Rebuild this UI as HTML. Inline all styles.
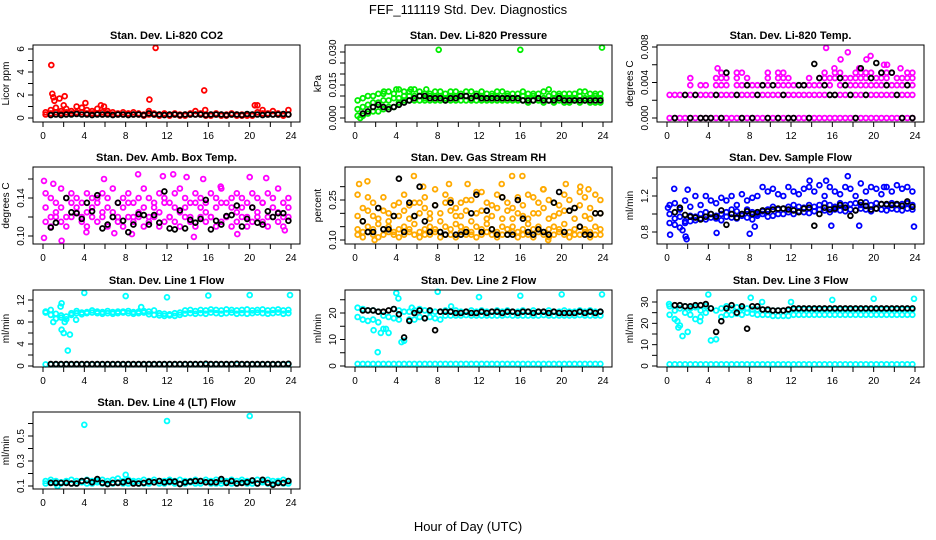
<!DOCTYPE html>
<html><head><meta charset="utf-8"><style>
html,body{margin:0;padding:0;background:#fff;}
svg{display:block;font-family:"Liberation Sans",Arial,sans-serif;}
</style></head><body>
<svg id="chart" width="936" height="540" viewBox="0 0 936 540">
<text x="468" y="14" text-anchor="middle" font-size="13">FEF_111119  Std. Dev. Diagnostics</text>
<text x="468" y="531" text-anchor="middle" font-size="13">Hour of Day (UTC)</text>
</svg>
<script>
const H=[0.25,0.75,1.25,1.75,2.25,2.75,3.25,3.75,4.25,4.75,5.25,5.75,6.25,6.75,7.25,7.75,8.25,8.75,9.25,9.75,10.25,10.75,11.25,11.75,12.25,12.75,13.25,13.75,14.25,14.75,15.25,15.75,16.25,16.75,17.25,17.75,18.25,18.75,19.25,19.75,20.25,20.75,21.25,21.75,22.25,22.75,23.25,23.75];
const xTicks=[0,2,4,6,8,10,12,14,16,18,20,22,24];
const xTickLabels=[0,4,8,12,16,20,24];

const co2R1=[0.5,0.7,0.9,0.6,0.8,0.6,1.0,0.9,0.7,0.6,0.8,0.5,0.6,0.5,0.4,0.5,0.4,0.5,0.4,0.3,0.6,0.4,0.3,0.4,0.3,0.4,0.3,0.3,0.4,0.6,0.4,0.3,0.3,0.4,0.3,0.3,0.4,0.3,0.3,0.3,0.3,1.1,0.7,0.4,0.6,0.4,0.3,0.7];
const co2R2=[0.3,0.4,0.5,0.4,0.5,0.4,0.5,0.5,0.4,0.4,0.4,0.3,0.4,0.3,0.3,0.3,0.3,0.3,0.3,0.2,0.3,0.3,0.2,0.3,0.2,0.3,0.2,0.2,0.3,0.3,0.3,0.2,0.2,0.3,0.2,0.2,0.3,0.2,0.2,0.2,0.2,0.5,0.4,0.3,0.3,0.3,0.2,0.3];
const co2K=[null,0.25,0.3,0.25,0.3,0.3,0.35,0.3,0.3,0.25,0.3,0.3,0.3,0.25,0.3,0.3,0.25,0.3,0.3,0.25,0.4,0.3,0.3,0.25,0.3,0.3,0.25,0.3,0.3,0.3,0.3,0.25,0.3,0.3,0.3,0.25,0.3,0.3,0.25,0.35,0.3,0.3,0.25,0.3,0.3,0.3,0.35,0.3];
const co2OutX=[0.8,0.9,1.0,1.1,1.6,2.1,4.1,5.6,10.3,10.9,15.6,2.0,20.5,15.7,5.9];
const co2OutY=[4.6,2.1,1.8,1.5,1.7,1.9,1.3,1.1,1.6,6.1,2.4,1.1,1.1,0.7,1.0];

const prG1=[0.008,0.009,0.010,0.010,0.011,0.011,0.012,0.011,0.013,0.012,0.012,0.013,0.012,0.011,0.011,0.012,0.012,0.011,0.012,0.012,0.011,0.012,0.012,0.011,0.012,0.011,0.011,0.012,0.012,0.011,0.011,0.011,0.012,0.011,0.011,0.011,0.012,0.013,0.011,0.011,0.011,0.011,0.011,0.012,0.012,0.011,0.011,0.011];
const prG2=[0.004,0.005,0.006,0.007,0.007,0.008,0.008,0.009,0.009,0.010,0.010,0.010,0.010,0.009,0.010,0.010,0.010,0.009,0.010,0.010,0.010,0.010,0.009,0.010,0.010,0.009,0.010,0.010,0.009,0.010,0.009,0.009,0.010,0.009,0.010,0.009,0.009,0.010,0.009,0.010,0.009,0.009,0.009,0.010,0.009,0.009,0.010,0.009];
const prG3=[0.001,0.001,0.002,0.003,0.003,0.004,0.005,0.005,0.007,0.008,0.008,0.008,0.008,0.008,0.008,0.008,0.008,0.008,0.008,0.008,0.008,0.008,0.008,0.008,0.008,0.008,0.008,0.008,0.008,0.008,0.008,0.008,0.008,0.007,0.008,0.008,0.007,0.008,0.007,0.008,0.007,0.007,0.008,0.007,0.008,0.007,0.007,0.007];
const prK=[null,0.002,0.003,0.005,0.006,0.005,0.004,0.005,0.006,0.007,0.008,0.009,0.010,0.010,0.009,0.009,0.009,0.008,0.009,0.009,0.010,0.010,0.009,0.010,0.009,0.009,0.009,0.009,0.009,0.009,0.009,0.009,0.008,0.008,0.008,0.009,0.008,0.008,0.008,0.009,0.008,0.008,0.008,0.008,0.008,0.008,0.008,0.008];
const prOutX=[8.1,16.0,23.9,2.8,4.0,5.4,6.9,0.5];
const prOutY=[0.031,0.031,0.032,0.012,0.013,0.013,0.013,0.000];

const tA=[0,0,0,0,0,0,0,0,0,0,0,0,0,0,0,0,0,0,0,0,0,0,0,0,0,0,0,0,0,0,0,0,0,0,0,0,0,0,0,0,0,0,0,0,0,0,0,0];
const tB=[0.0026,0.0026,0.0026,0.0026,0.0026,0.0026,0.0026,0.0026,0.0026,0.0026,0.0026,0.0026,0.0026,0.0026,0.0026,0.0026,0.0026,0.0026,0.0026,0.0026,0.0026,0.0026,0.0026,0.0026,0.0026,0.0026,0.0026,0.0026,0.0026,0.0026,0.0026,0.0026,0.0026,0.0026,0.0026,0.0026,0.0026,0.0026,0.0026,0.0026,0.0026,0.0026,0.0026,0.0026,0.0026,0.0026,0.0026,0.0026];
const tC=[null,null,null,null,0.0037,null,0.0037,0.0037,null,0.0037,0.0037,0.0037,null,0.0037,0.0037,0.0037,0.0037,0.0037,0.0037,0.0037,null,0.0037,0.0037,0.0037,0.0037,0.0037,0.0037,0.0037,0.0037,0.0037,0.0037,0.0037,null,0.0037,0.0037,0.0037,0.0037,0.0037,0.0037,0.0037,0.0037,0.0037,0.0037,0.0037,0.0037,0.0037,0.0037,0.0037];
const tD=[null,null,null,null,0.0045,null,null,null,null,0.0045,0.0045,0.0045,null,0.0045,null,0.0045,null,null,null,0.0045,null,0.0045,0.0045,0.0045,null,null,null,0.0045,null,0.0045,0.0045,0.0045,0.0045,0.0045,0.0045,0.0045,0.0045,0.0045,0.0045,null,0.0045,0.0045,0.0045,null,0.0045,0.0045,0.0045,0.0045];
const tE=[null,null,null,null,null,null,null,null,null,null,0.0051,null,null,0.0051,0.0051,null,null,null,null,0.0051,null,0.0051,0.0051,null,null,null,null,null,null,null,0.0051,null,0.0051,0.0051,null,null,0.0051,0.0051,0.0051,0.0051,null,0.0051,0.0051,0.0051,null,null,0.0051,0.0051];
const tOutX=[4.9,15.4,16.8,17.5,19.3,19.7,21.0,21.3,22.6,16.2,18.6];
const tOutY=[0.0056,0.0079,0.0066,0.0074,0.0066,0.0070,0.0060,0.0060,0.0056,0.0056,0.0056];
const tK=[null,0,null,0.0026,0,0.0026,0,0,0,0.0026,0,0.0051,null,0.0026,0,0.0037,0,0.0026,0.0037,0,0.0037,0,0.0026,0,0,0.0037,0.0037,0,0.0061,0.0045,0.0037,0.0026,0.0026,0.0045,0.0037,0.0026,0,0.0056,0.0026,0.0045,0.0062,0.0051,0.0037,0.0051,0.0026,0,0.0037,0];

const bM1=[0.13,0.12,0.125,0.13,0.12,0.135,0.13,0.12,0.125,0.13,0.14,0.12,0.13,0.125,0.12,0.13,0.135,0.12,0.125,0.13,0.12,0.13,0.125,0.135,0.12,0.13,0.125,0.13,0.12,0.135,0.13,0.125,0.12,0.13,0.135,0.12,0.13,0.125,0.13,0.12,0.13,0.125,0.135,0.12,0.13,0.125,0.12,0.13];
const bM2=[0.115,0.11,0.12,0.115,0.11,0.12,0.125,0.115,0.11,0.12,0.115,0.125,0.11,0.12,0.115,0.11,0.12,0.115,0.12,0.11,0.115,0.12,0.11,0.115,0.12,0.115,0.11,0.12,0.115,0.11,0.12,0.115,0.12,0.11,0.115,0.12,0.11,0.115,0.12,0.11,0.115,0.12,0.115,0.11,0.12,0.115,0.11,0.12];
const bM3=[0.145,0.14,0.135,0.15,0.14,0.145,0.14,0.135,0.145,0.14,0.135,0.145,0.14,0.15,0.135,0.14,0.145,0.135,0.14,0.15,0.14,0.135,0.145,0.14,0.135,0.145,0.15,0.14,0.135,0.145,0.14,0.135,0.145,0.14,0.15,0.135,0.14,0.145,0.14,0.135,0.145,0.14,0.135,0.145,0.14,0.15,0.135,0.14];
const bOutX=[0.1,0.1,1.8,1.0,5.9,9.2,11.6,12.6,13.9,15.5,17.2,20.0,21.6,4.2,8.6,14.6,18.8,23.4,6.9];
const bOutY=[0.098,0.158,0.095,0.155,0.16,0.165,0.163,0.165,0.162,0.16,0.152,0.162,0.161,0.104,0.102,0.099,0.102,0.106,0.103];
const bK=[null,0.109,0.114,null,0.14,0.125,0.124,0.118,0.135,0.126,0.143,0.108,0.112,0.12,0.135,0.116,0.104,0.112,0.123,0.122,0.112,0.122,0.114,0.147,0.108,0.107,0.127,0.108,0.117,0.114,0.118,0.138,0.107,0.116,0.112,0.121,0.122,0.132,0.11,0.118,0.13,0.114,0.112,0.126,0.12,0.124,0.124,0.116];

const rL1=[0.12,0.11,0.13,0.12,0.11,0.12,0.13,0.12,0.11,0.12,0.13,0.12,0.11,0.12,0.12,0.13,0.11,0.12,0.12,0.11,0.13,0.12,0.12,0.11,0.12,0.13,0.12,0.11,0.12,0.12,0.13,0.11,0.12,0.12,0.11,0.13,0.12,0.11,0.12,0.13,0.12,0.11,0.12,0.12,0.13,0.11,0.12,0.12];
const rL2=[0.14,0.13,0.15,0.14,0.16,0.14,0.15,0.13,0.14,0.15,0.14,0.16,0.13,0.14,0.15,0.14,0.13,0.15,0.14,0.16,0.15,0.14,0.13,0.15,0.14,0.16,0.14,0.13,0.15,0.14,0.15,0.13,0.14,0.16,0.14,0.15,0.13,0.14,0.15,0.14,0.16,0.13,0.14,0.15,0.14,0.13,0.15,0.14];
const rH1=[0.19,0.22,0.26,0.24,0.18,0.21,0.2,0.23,0.19,0.27,0.18,0.24,0.2,0.22,0.18,0.29,0.2,0.24,0.25,0.22,0.19,0.21,0.25,0.2,0.28,0.24,0.19,0.22,0.26,0.21,0.18,0.2,0.23,0.27,0.2,0.24,0.22,0.25,0.19,0.23,0.27,0.21,0.18,0.23,0.26,0.22,0.2,0.25];
const rH2=[0.27,0.17,0.21,0.19,0.22,0.26,0.17,0.19,0.24,0.21,0.23,0.19,0.24,0.26,0.2,0.23,0.17,0.27,0.21,0.19,0.24,0.25,0.17,0.28,0.21,0.18,0.23,0.27,0.18,0.24,0.22,0.26,0.19,0.18,0.26,0.2,0.29,0.18,0.24,0.2,0.21,0.25,0.22,0.28,0.19,0.18,0.27,0.2];
const rOutX=[0.4,1.2,5.7,6.6,9.1,10.9,14.2,15.2,16.2,18.2,20.4,21.8,22.6,1.9,18.7];
const rOutY=[0.31,0.32,0.34,0.3,0.31,0.31,0.31,0.34,0.34,0.29,0.31,0.3,0.29,0.1,0.1];
const rK=[null,0.17,0.13,0.13,0.22,0.14,0.14,0.19,0.33,0.13,0.24,0.19,0.3,0.17,0.13,0.23,0.13,0.12,0.24,0.12,0.12,0.13,0.2,0.27,0.13,0.21,0.14,0.12,0.26,0.12,0.12,0.25,0.18,0.13,0.12,0.14,0.13,0.12,0.24,0.28,0.13,0.21,0.22,0.15,0.12,0.12,0.2,0.2];

const sB1=[1.0,0.95,0.97,0.92,0.98,0.97,1.0,1.02,1.0,0.98,1.0,1.02,1.05,1.03,1.0,1.05,1.02,1.0,1.03,1.05,1.08,1.05,1.06,1.08,1.1,1.08,1.07,1.1,1.08,1.1,1.12,1.1,1.08,1.12,1.1,1.11,1.12,1.1,1.13,1.1,1.12,1.11,1.1,1.12,1.1,1.11,1.12,1.1];
const sB2=[0.9,0.88,0.85,0.9,0.92,0.93,0.95,0.94,0.96,0.95,0.93,0.97,0.96,0.95,0.98,0.96,0.94,0.98,1.0,0.97,0.98,1.0,1.0,1.02,1.0,1.03,1.02,1.01,1.03,1.05,1.04,1.02,1.05,1.04,1.03,1.05,1.04,1.06,1.05,1.03,1.06,1.05,1.04,1.06,1.05,1.04,1.06,1.05];
const sB3=[1.1,1.12,1.05,1.15,1.08,1.2,1.1,1.2,1.15,1.12,1.18,1.15,1.2,1.1,1.22,1.15,1.18,1.2,1.3,1.25,1.28,1.22,1.2,1.3,1.25,1.22,1.28,1.3,1.25,1.32,1.2,1.3,1.25,1.22,1.3,1.28,1.2,1.34,1.25,1.3,1.28,1.22,1.3,1.25,1.32,1.28,1.3,1.25];
const sOutX=[0.1,0.3,0.7,1.5,1.8,1.9,2.0,4.8,8.0,8.5,15.9,17.5,18.6,21.0,23.9,13.8,15.4];
const sOutY=[1.07,0.77,1.28,0.82,0.75,0.72,1.27,0.79,0.78,0.86,0.87,1.42,0.87,1.3,0.86,1.37,1.37];
const sK=[null,1.02,1.07,0.99,0.97,0.96,0.94,0.97,1.0,0.97,1.04,0.88,1.0,0.96,1.0,1.03,1.0,1.02,1.04,1.03,1.05,1.06,1.06,1.05,1.04,1.02,1.06,1.07,0.87,1.0,1.07,1.05,1.06,1.1,1.07,0.98,1.04,1.13,1.09,1.05,1.06,1.11,1.11,1.1,1.11,1.09,1.14,1.08];

const l1C1=[9.9,10.2,9.5,8.8,9.0,9.6,10.0,9.4,9.8,10.1,9.9,9.8,10.0,9.8,9.9,9.9,10.0,9.8,9.9,10.0,9.9,10.1,9.6,9.5,9.4,9.6,9.7,10.1,10.2,10.0,10.2,10.1,10.3,10.2,10.1,10.3,10.2,10.1,10.2,10.3,10.1,10.2,10.3,10.1,10.2,10.3,10.1,10.2];
const l1C2=[9.7,9.3,8.6,9.2,8.5,9.3,9.6,9.7,9.6,9.7,9.6,9.5,9.6,9.5,9.6,9.7,9.6,9.5,9.6,9.7,9.4,9.3,9.2,9.1,9.2,9.1,9.3,9.5,9.6,9.5,9.6,9.5,9.7,9.6,9.5,9.6,9.7,9.5,9.6,9.5,9.6,9.7,9.6,9.5,9.6,9.7,9.5,9.6];
const l1Z=[0.3,0.3,0.3,0.3,0.3,0.3,0.3,0.3,0.3,0.3,0.3,0.3,0.3,0.3,0.3,0.3,0.3,0.3,0.3,0.3,0.3,0.3,0.3,0.3,0.3,0.3,0.3,0.3,0.3,0.3,0.3,0.3,0.3,0.3,0.3,0.3,0.3,0.3,0.3,0.3,0.3,0.3,0.3,0.3,0.3,0.3,0.3,0.3];
const l1K=[null,0.35,0.35,0.35,0.35,0.35,0.35,0.35,0.35,0.35,0.35,0.35,0.35,0.35,0.35,0.35,0.35,0.35,0.35,0.35,0.35,0.35,0.35,0.35,0.35,0.35,0.35,0.35,0.35,0.35,0.35,0.4,0.35,0.35,0.35,0.35,0.35,0.4,0.35,0.35,0.35,0.35,0.35,0.35,0.35,0.35,0.35,0.4];
const l1OutX=[1.8,1.7,1.8,2.0,2.1,2.4,2.6,3.2,4.0,8.0,12.0,16.0,20.0,23.9,1.0,9.5];
const l1OutY=[11.4,10.8,6.6,6.0,8.0,2.8,5.7,8.4,13.3,12.7,12.5,12.8,12.9,12.9,8.0,10.7];

const l2C1=[22,21.5,21,21,20.5,19,18.5,21.5,21,20.5,20.5,21,21.5,21,20.5,20.5,20.5,21,20.5,21,20.5,20.5,21,20.5,21,20.5,20.5,21,20.5,21,20.5,20.5,21,20.5,21,20.5,20.5,21,20.5,20.5,21,20.5,20.5,21,20.5,21,20.5,20.5];
const l2C2=[18.5,17.5,17,17.5,16.5,14,12.5,18,17.5,9.5,17.5,17.5,18.5,18,18.5,18,17.5,19,19,19,19,19.2,19,19,19,19,19,19,19,19.2,19,19,19,19,19,19,19.2,19,19,19,19,19,19,19.2,19,19,19,19];
const l2Z=[0.8,0.8,0.8,0.8,0.8,0.8,0.8,0.8,0.8,0.8,0.8,0.8,0.8,0.8,0.8,0.8,0.8,0.8,0.8,0.8,0.8,0.8,0.8,0.8,0.8,0.8,0.8,0.8,0.8,0.8,0.8,0.8,0.8,0.8,0.8,0.8,0.8,0.8,0.8,0.8,0.8,0.8,0.8,0.8,0.8,0.8,0.8,0.8];
const l2K=[null,21,21,21,20.5,20.5,21,21.5,19.5,10.8,17,20,21,18,21,13.5,20.5,20.5,20.5,20,20,20.5,20,20,20.5,20,20.5,20.5,20,20.5,20.5,20,20.5,20.5,20,20.5,20.5,20,20.5,20,20,20,20,20.5,20,20.5,20,20.5];
const l2OutX=[2.2,1.8,2.5,3.0,4.0,4.2,8.0,9.3,12.0,16.0,20.0,23.9,5.5,4.5];
const l2OutY=[5.2,13.5,12.5,14,27.5,25.5,28,22.5,26,26.5,27,27,22,9];

const l3C1=[28,26,27,28,27,27.5,26,28,27,26,27,28,27,27.5,27,27,26.5,26.5,26.5,26,26,26,26,26,26.5,26.5,26.5,26.5,26.5,26.5,26.5,26.5,26.5,26.5,26.5,26.5,26.5,26.5,26.5,26.5,26.5,26.5,26.5,26.5,26.5,26.5,26.5,26.5];
const l3C2=[24,22,19,25,24,22,23,25,12,12.5,23,24,24,24.5,24,25,24.5,24,24,24,23.5,23.5,23.5,23.5,24,24,24,24,24,24,24,24,24,24,24,24,24,24,24,24,24,24,24,24,24,24,24,24];
const l3Z=[0.8,0.8,0.8,0.8,0.8,0.8,0.8,0.8,0.8,0.8,0.8,0.8,0.8,0.8,0.8,0.8,0.8,0.8,0.8,0.8,0.8,0.8,0.8,0.8,0.8,0.8,0.8,0.8,0.8,0.8,0.8,0.8,0.8,0.8,0.8,0.8,0.8,0.8,0.8,0.8,0.8,0.8,0.8,0.8,0.8,0.8,0.8,0.8];
const l3K=[null,28.5,28.5,28,28,28.5,28.5,29,27,16,21,27,28.5,25,28,17.5,28,28,26.5,26.5,26,26,26,26.5,27,27,27,27,27,27,27,27,27,27,27,27,27,27,27,27,27,27,27,27,27,27,27,27];
const l3OutX=[1.0,1.1,1.5,2.0,3.2,4.0,8.1,9.2,12.0,16.0,20.0,23.9,0.2];
const l3OutY=[21,18,14,16,21,33.5,32,30,30,31,31.5,31.5,29];

const l4C1=[0.14,0.15,0.14,0.13,0.14,0.15,0.14,0.14,0.15,0.14,0.14,0.15,0.14,0.15,0.16,0.14,0.15,0.14,0.14,0.15,0.14,0.15,0.14,0.14,0.15,0.14,0.15,0.14,0.14,0.15,0.14,0.15,0.14,0.15,0.14,0.14,0.15,0.14,0.15,0.14,0.14,0.15,0.14,0.15,0.14,0.14,0.15,0.14];
const l4C2=[0.12,0.13,0.12,0.12,0.13,0.12,0.12,0.13,0.12,0.12,0.13,0.12,0.12,0.12,0.13,0.12,0.12,0.13,0.12,0.12,0.12,0.13,0.12,0.12,0.13,0.12,0.12,0.12,0.13,0.12,0.12,0.13,0.12,0.12,0.12,0.13,0.12,0.12,0.13,0.12,0.12,0.12,0.13,0.12,0.12,0.13,0.12,0.12];
const l4K=[null,0.125,0.125,0.125,0.125,0.12,0.12,0.14,0.145,0.13,0.155,0.125,0.115,0.125,0.125,0.13,0.14,0.12,0.12,0.125,0.135,0.13,0.14,0.13,0.135,0.135,0.115,0.13,0.135,0.14,0.14,0.13,0.13,0.13,0.155,0.125,0.14,0.12,0.125,0.13,0.145,0.12,0.15,0.125,0.11,0.125,0.125,0.14];
const l4OutX=[4.0,12.0,20.0,8.0,1.4];
const l4OutY=[0.59,0.62,0.66,0.19,0.1];

const NS='http://www.w3.org/2000/svg';
const svg=document.getElementById('chart');
function mk(tag,attrs,parent){const e=document.createElementNS(NS,tag);for(const k in attrs)e.setAttribute(k,attrs[k]);(parent||svg).appendChild(e);return e;}

const ROW_T=[45,167,290,412];
const panels=[
 {slug:'co2',title:'Stan. Dev. Li-820 CO2',ylab:'Licor ppm',c:0,r:0,v0:0,p0:118,v1:6,p1:49,ticks:[0,1,2,3,4,5,6],lab:[0,2,4,6],dec:0,
  series:[{c:'#ff0000',y:[co2R1,co2R2]}],out:{c:'#ff0000',x:co2OutX,y:co2OutY},k:co2K},
 {slug:'pressure',title:'Stan. Dev. Li-820 Pressure',ylab:'kPa',c:1,r:0,v0:0,p0:118,v1:0.03,p1:52,ticks:[0,0.005,0.01,0.015,0.02,0.025,0.03],lab:[0,0.015,0.03],dec:3,
  series:[{c:'#00ee00',y:[prG1,prG2,prG3]}],out:{c:'#00ee00',x:prOutX,y:prOutY},k:prK},
 {slug:'temp',title:'Stan. Dev. Li-820 Temp.',ylab:'degrees C',c:2,r:0,v0:0,p0:118,v1:0.008,p1:47,ticks:[0,0.002,0.004,0.006,0.008],lab:[0,0.004,0.008],dec:3,
  series:[{c:'#ff00ff',y:[tA,tB,tC,tD,tE]}],out:{c:'#ff00ff',x:tOutX,y:tOutY},k:tK},
 {slug:'box-temp',title:'Stan. Dev. Amb. Box Temp.',ylab:'degrees C',c:0,r:1,v0:0.10,p0:236,v1:0.14,p1:198,ticks:[0.10,0.12,0.14,0.16],lab:[0.10,0.14],dec:2,
  series:[{c:'#ff00ff',y:[bM1,bM2,bM3]}],out:{c:'#ff00ff',x:bOutX,y:bOutY},k:bK},
 {slug:'rh',title:'Stan. Dev. Gas Stream RH',ylab:'percent',c:1,r:1,v0:0.10,p0:240,v1:0.25,p1:200,ticks:[0.10,0.15,0.20,0.25,0.30],lab:[0.10,0.25],dec:2,
  series:[{c:'#ffaa00',y:[rL1,rL2,rH1,rH2]}],out:{c:'#ffaa00',x:rOutX,y:rOutY},k:rK},
 {slug:'sample-flow',title:'Stan. Dev. Sample Flow',ylab:'ml/min',c:2,r:1,v0:0.8,p0:232,v1:1.2,p1:196,ticks:[0.8,1.0,1.2,1.4],lab:[0.8,1.2],dec:1,
  series:[{c:'#0000ff',y:[sB2,sB1,sB3]}],out:{c:'#0000ff',x:sOutX,y:sOutY},k:sK},
 {slug:'line1',title:'Stan. Dev. Line 1 Flow',ylab:'ml/min',c:0,r:2,v0:0,p0:366,v1:12,p1:300,ticks:[0,2,4,6,8,10,12],lab:[0,4,8,12],dec:0,
  series:[{c:'#00ffff',y:[l1C1,l1C2,l1Z]}],out:{c:'#00ffff',x:l1OutX,y:l1OutY},k:l1K},
 {slug:'line2',title:'Stan. Dev. Line 2 Flow',ylab:'ml/min',c:1,r:2,v0:0,p0:366,v1:20,p1:313,ticks:[0,5,10,15,20,25],lab:[0,10,20],dec:0,
  series:[{c:'#00ffff',y:[l2C1,l2C2,l2Z]}],out:{c:'#00ffff',x:l2OutX,y:l2OutY},k:l2K},
 {slug:'line3',title:'Stan. Dev. Line 3 Flow',ylab:'ml/min',c:2,r:2,v0:0,p0:366,v1:30,p1:302,ticks:[0,5,10,15,20,25,30],lab:[0,10,20,30],dec:0,
  series:[{c:'#00ffff',y:[l3C1,l3C2,l3Z]}],out:{c:'#00ffff',x:l3OutX,y:l3OutY},k:l3K},
 {slug:'line4',title:'Stan. Dev. Line 4 (LT) Flow',ylab:'ml/min',c:0,r:3,v0:0.1,p0:486,v1:0.5,p1:436,ticks:[0.1,0.2,0.3,0.4,0.5,0.6],lab:[0.1,0.3,0.5],dec:1,
  series:[{c:'#00ffff',y:[l4C1,l4C2]}],out:{c:'#00ffff',x:l4OutX,y:l4OutY},k:l4K}
];

panels.forEach(p=>{
  const L=33+312*p.c, R=L+267, T=ROW_T[p.r], B=T+77;
  const xs=v=>L+10+v*(248/24);
  const ys=v=>p.p0+(v-p.v0)*(p.p1-p.p0)/(p.v1-p.v0);
  const g=mk('g',{});
  
  
  const t=mk('text',{x:(L+R)/2,y:T-6,'text-anchor':'middle','font-size':11,'font-weight':'bold'},g);
  t.textContent=p.title;
  
  
  const pts=mk('g',{fill:'none','stroke-width':1.8},g);
  
  
  function dot(x,y,col){
    if(y===null||y===undefined)return;
    const c=mk('circle',{cx:xs(x).toFixed(1),cy:ys(y).toFixed(1),r:2.4,stroke:col},pts);
    
    
  }
  p.series.forEach(s=>s.y.forEach(arr=>arr.forEach((v,i)=>dot(H[i],v,s.c))));
  p.out.x.forEach((x,i)=>dot(x,p.out.y[i],p.out.c));
  p.k.forEach((v,i)=>dot(H[i],v,'#000'));
  const box=mk('rect',{x:L,y:T,width:R-L,height:B-T,fill:'none',stroke:'#000','stroke-width':1},g);
  
  
  const xa=mk('g',{stroke:'#000','stroke-width':1},g);
  
  
  mk('line',{x1:xs(0),x2:xs(24),y1:B,y2:B},xa);
  xTicks.forEach(v=>mk('line',{x1:xs(v),x2:xs(v),y1:B,y2:B+5},xa));
  xTickLabels.forEach(v=>{const tx=mk('text',{x:xs(v),y:B+17,'text-anchor':'middle','font-size':10,stroke:'none'},xa);tx.textContent=v;});
  const ya=mk('g',{stroke:'#000','stroke-width':1},g);
  
  
  mk('line',{x1:L,x2:L,y1:ys(p.ticks[0]),y2:ys(p.ticks[p.ticks.length-1])},ya);
  p.ticks.forEach(v=>mk('line',{x1:L-5,x2:L,y1:ys(v),y2:ys(v)},ya));
  p.lab.forEach(v=>{const yy=ys(v);const tx=mk('text',{x:L-9,y:yy,'text-anchor':'middle','font-size':10,stroke:'none',transform:`rotate(-90 ${L-9} ${yy})`},ya);tx.textContent=v.toFixed(p.dec);});
  const yc=(T+B)/2;
  const yl=mk('text',{x:L-24,y:yc,'text-anchor':'middle','font-size':10,transform:`rotate(-90 ${L-24} ${yc})`},g);
  yl.textContent=p.ylab;
  
  
});
</script>
</body></html>
